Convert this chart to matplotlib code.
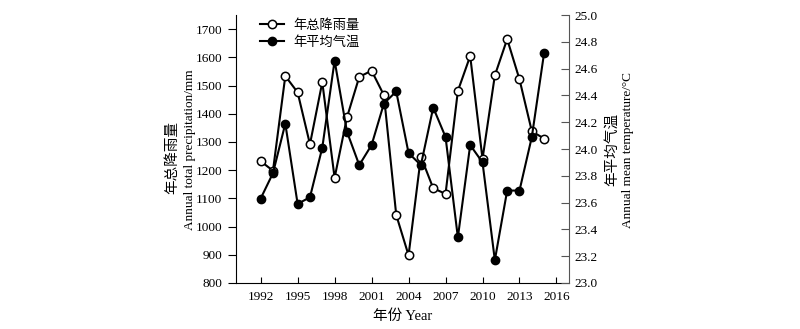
import numpy as np
import matplotlib
matplotlib.use("Agg")
import matplotlib.pyplot as plt

plt.rcParams['font.family'] = ['Liberation Serif', 'Noto Sans CJK SC']
plt.rcParams['font.size'] = 9.5

years = list(range(1992, 2016))
# 年总降雨量 (mm)
precip = [1232, 1198, 1534, 1476, 1292, 1512, 1173, 1387, 1531, 1553, 1466, 1041,
          898, 1248, 1136, 1116, 1481, 1605, 1240, 1536, 1665, 1522, 1338, 1312]
# 年平均气温 (°C)
temp = [23.63, 23.82, 24.19, 23.59, 23.64, 24.01, 24.66, 24.13, 23.88, 24.03, 24.34, 24.43,
        23.97, 23.88, 24.31, 24.09, 23.34, 24.03, 23.90, 23.17, 23.69, 23.69, 24.09, 24.72]

xticks = list(range(1992, 2017, 3))
left_ticks = list(range(800, 1701, 100))
right_ticks = np.round(np.arange(23.0, 25.01, 0.2), 1)

fig = plt.figure(figsize=(8, 3.29), dpi=100)
ax = fig.add_axes([0.295, 0.140, 0.416, 0.814])
ax2 = ax.twinx()

l1, = ax.plot(years, precip, color='black', lw=1.5, marker='o', ms=6,
              mfc='white', mec='black', mew=1.1, label='年总降雨量', zorder=3)
l2, = ax2.plot(years, temp, color='black', lw=1.5, marker='o', ms=6,
               mfc='black', mec='black', label='年平均气温', zorder=3)

ax.set_xlim(1990, 2017)
ax.set_ylim(800, 1750)
ax2.set_ylim(23.0, 25.0)

ax.set_xticks(xticks)
ax.set_yticks(left_ticks)
ax2.set_yticks(right_ticks)
ax2.set_yticklabels(['%.1f' % v for v in right_ticks])

ax.tick_params(axis='x', direction='in', length=4, width=0.8, pad=6)
ax.tick_params(axis='y', direction='out', length=6, width=0.8, pad=4)
ax2.tick_params(axis='y', direction='in', length=6, width=0.8, pad=4, color='#555555')

for a in (ax, ax2):
    a.spines['top'].set_visible(False)
ax.spines['right'].set_visible(False)
ax2.spines['left'].set_visible(False)
ax2.spines['bottom'].set_visible(False)
ax2.spines['right'].set_color('#555555')

ax.set_xlabel('年份 Year', labelpad=4, fontsize=10.5)

fig.text(0.216, 0.52, '年总降雨量', rotation=90, ha='center', va='center',
         family=['Noto Sans CJK SC'], fontsize=10.5)
fig.text(0.237, 0.545, 'Annual total precipitation/mm', rotation=90, ha='center', va='center')
fig.text(0.765, 0.545, '年平均气温', rotation=90, ha='center', va='center',
         family=['Noto Sans CJK SC'], fontsize=10.5)
fig.text(0.785, 0.545, 'Annual mean temperature/°C', rotation=90, ha='center', va='center')

leg = ax.legend(handles=[l1, l2], loc='upper left', bbox_to_anchor=(0.045, 1.02),
                frameon=False, handlelength=1.8, handletextpad=0.7,
                labelspacing=0.3, borderaxespad=0.3,
                prop={'family': ['Noto Sans CJK SC'], 'size': 9.5})

fig.savefig('out.png', dpi=100)
